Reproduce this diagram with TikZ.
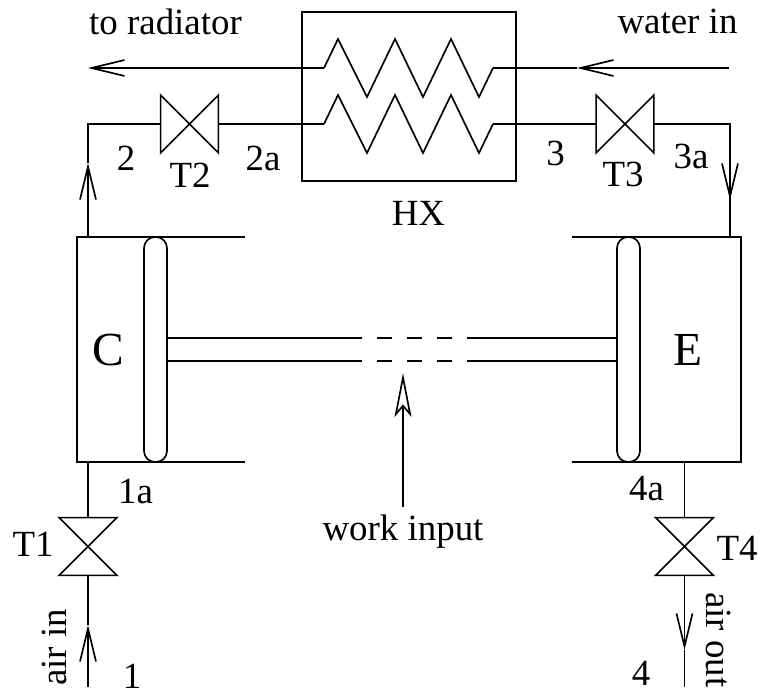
\documentclass[tikz,border=0pt]{standalone}
\usepackage{fontspec}
\setmainfont{Liberation Serif}
\usetikzlibrary{arrows.meta}
\tikzset{
    pipe/.style={line width=0.95pt},
    flow/.style={pipe,-{Straight Barb[length=0.66cm,width=0.32cm,line width=0.95pt]}},
    valve/.style={minimum width=1.14cm,minimum height=1.14cm,inner sep=0pt},
    piston/.style={draw,pipe,minimum width=0.46cm,minimum height=4.5cm,inner sep=0pt,rounded corners=0.22cm},
    tag/.style={inner sep=0pt,anchor=base,font=\fontsize{21}{25}\selectfont},
    bigtag/.style={inner sep=0pt,anchor=base,font=\fontsize{27}{32}\selectfont}
}
\begin{document}
\begin{tikzpicture}[x=0.02cm,y=-0.02cm]
    \useasboundingbox (0,0) rectangle (761,695);
    \node[draw,pipe,minimum width=4.28cm,minimum height=3.38cm,inner sep=0pt] (HX) at (409,96.5) {};
    \node[valve] (T1) at (88,546.5) {};
    \node[valve] (T2) at (189.5,124) {};
    \node[valve] (T3) at (625,124) {};
    \node[valve] (T4) at (684.5,546.5) {};
    \node[piston] (pistonC) at (155.5,349.5) {};
    \node[piston] (pistonE) at (628.5,349.5) {};
    \foreach \v in {T2,T3}
        \draw[pipe] (\v.north west) -- (\v.south west) -- (\v.north east) -- (\v.south east) -- cycle;
    \foreach \v in {T1,T4}
        \draw[pipe] (\v.north west) -- (\v.north east) -- (\v.south west) -- (\v.south east) -- cycle;
    \draw[pipe] (245,237) -- (77,237) -- (77,462) -- (245,462);
    \draw[pipe] (572,237) -- (741,237) -- (741,462) -- (572,462);
    \foreach \y in {68,124} {
        \draw[pipe] (324,\y) -- ++(14,-29) -- ++(29,58) -- ++(28,-58) -- ++(28,58) -- ++(28,-58) -- ++(28,58) -- ++(14,-29);
    }
    \coordinate (coilAw) at (324,68);
    \coordinate (coilAe) at (493,68);
    \coordinate (coilBw) at (324,124);
    \coordinate (coilBe) at (493,124);
    \coordinate (radiator) at (88,68);
    \coordinate (waterin) at (729,68);
    \coordinate (watertip) at (577,68);
    \coordinate (corner2) at (88,124);
    \coordinate (corner3) at (730,124);
    \coordinate (tip2) at (88,163);
    \coordinate (tip3) at (730,200);
    \coordinate (topC) at (88,237);
    \coordinate (topE) at (730,237);
    \coordinate (botC) at (88,462);
    \coordinate (botE) at (684.5,462);
    \coordinate (airin) at (88,687);
    \coordinate (tip1) at (88,625);
    \coordinate (airout) at (684.5,687);
    \coordinate (tip4) at (684.5,650);
    \coordinate (worktip) at (403,373);
    \coordinate (workend) at (403,507);
    \draw[flow] (coilAw) -- (radiator);
    \draw[flow] (waterin) -- (watertip);
    \draw[pipe] (watertip) -- (coilAe);
    \draw[pipe] (coilBw) -- (T2.east);
    \draw[pipe] (T2.west) -- (corner2) -- (tip2);
    \draw[flow] (topC) -- (tip2);
    \draw[pipe] (coilBe) -- (T3.west);
    \draw[pipe] (T3.east) -- (corner3) -- (tip3);
    \draw[flow] (corner3) -- (tip3);
    \draw[pipe] (tip3) -- (topE);
    \draw[pipe] (botC) -- (T1.north);
    \draw[flow] (airin) -- (tip1);
    \draw[pipe] (tip1) -- (T1.south);
    \draw[pipe] (botE) -- (T4.north);
    \draw[flow] (T4.south) -- (tip4);
    \draw[pipe] (tip4) -- (airout);
    \foreach \y in {338,361} {
        \draw[pipe] (pistonC.east |- 0,\y) -- (362,\y);
        \draw[pipe,dash pattern=on 0.3cm off 0.3cm,dash phase=0.3cm] (362,\y) -- (467,\y);
        \draw[pipe] (467,\y) -- (pistonE.west |- 0,\y);
    }
    \draw[pipe,-{Stealth[open,fill=white,length=0.88cm,width=0.34cm,inset=0.2cm,line width=0.95pt]}] (workend) -- (worktip);
    \node[tag] (toradiator) at (165.5,35) {to radiator};
    \node[tag] (waterlabel) at (677.5,34) {water in};
    \node[tag] (n2) at (126,171) {2};
    \node[tag] (labelT2) at (190,188) {T2};
    \node[tag] (n2a) at (263,171) {2a};
    \node[tag] (labelHX) at (418.5,226) {HX};
    \node[tag] (n3) at (555.5,166) {3};
    \node[tag] (labelT3) at (623,187) {T3};
    \node[tag] (n3a) at (691,169) {3a};
    \node[bigtag] (labelC) at (108,366) {C};
    \node[bigtag] (labelE) at (688,366) {E};
    \node[tag] (n1a) at (135.5,504) {1a};
    \node[tag] (labelT1) at (33,557) {T1};
    \node[tag,rotate=90] (airinlabel) at (66,647.5) {air in};
    \node[tag] (n1) at (132,688) {1};
    \node[tag] (n4a) at (646.5,501) {4a};
    \node[tag] (labelT4) at (737,561) {T4};
    \node[tag,rotate=-90] (airoutlabel) at (706,640) {air out};
    \node[tag] (n4) at (641,685) {4};
    \node[tag] (worklabel) at (403,541) {work input};
\end{tikzpicture}
\end{document}
